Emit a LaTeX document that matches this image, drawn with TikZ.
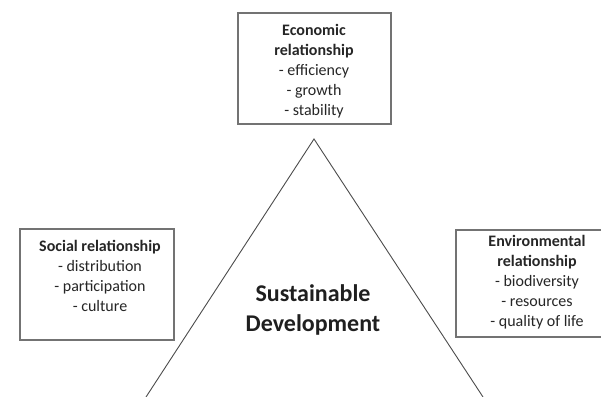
\documentclass[tikz,border=0pt]{standalone}
\usepackage{fontspec}
\setmainfont{Carlito}
\begin{document}
\begin{tikzpicture}[x=1pt,y=-1pt,
  box/.style={draw=black!55, line width=1.5pt, fill=none},
  txt/.style={align=center, inner sep=0pt, text=black!85, font=\fontsize{16}{20}\selectfont},
  big/.style={align=center, inner sep=0pt, text=black!88, font=\fontsize{24}{30}\selectfont\bfseries},
  tri/.style={draw=black!70, line width=0.9pt}]
\useasboundingbox (0,0) rectangle (601,396);
\fill[white] (0,0) rectangle (601,396);
% boxes
\draw[box] (238,13) rectangle (391,124);
\node[inner sep=0pt] (econbox) at (314.5,68.5) {};
\draw[box] (20,229) rectangle (174,340);
\node[inner sep=0pt] (socbox) at (97,284.5) {};
\draw[box] (456,230) rectangle (603,337);
\node[inner sep=0pt] (envbox) at (529,283.5) {};
% texts
\node[txt] (econ) at (314,71) {\textbf{Economic}\\\textbf{relationship}\\- efficiency\\- growth\\- stability};
\node[txt] (soc) at (100,276) {\textbf{Social relationship}\\- distribution\\- participation\\- culture};
\node[txt] (env) at (537,282) {\textbf{Environmental}\\\textbf{relationship}\\- biodiversity\\- resources\\- quality of life};
% triangle
\coordinate (apex) at (314,139);
\coordinate (bl) at (146,397);
\coordinate (br) at (483,397);
\draw[tri] (bl) -- (apex) -- (br);
\node[big] (sd) at (313,310) {Sustainable\\Development};
\end{tikzpicture}
\end{document}
